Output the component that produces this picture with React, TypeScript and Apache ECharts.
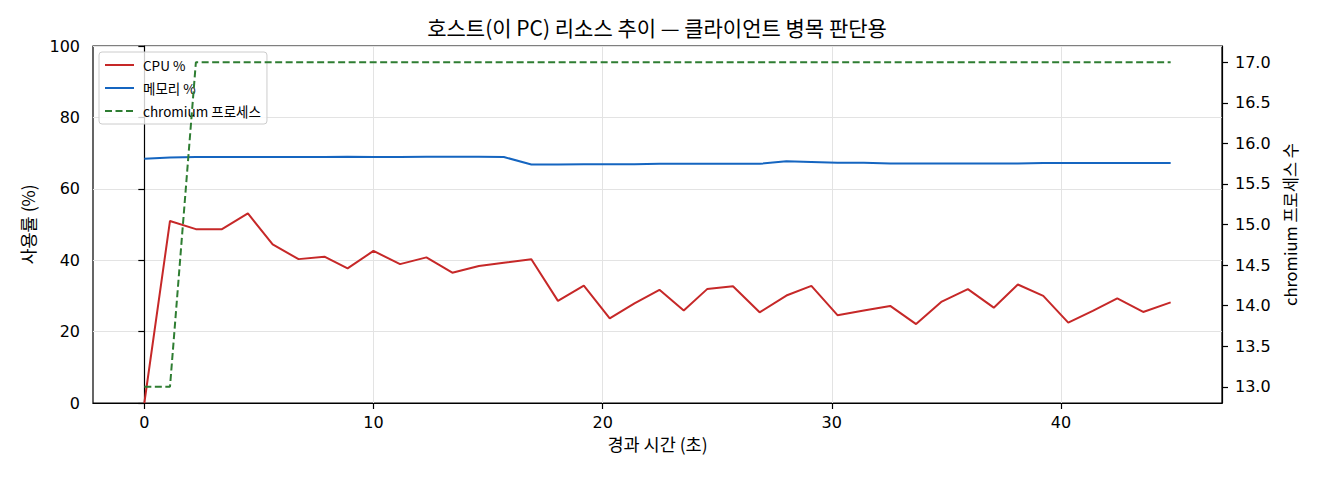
import React, { useEffect, useRef } from "react";
import * as echarts from "echarts";

const titleText = "호스트(이 PC) 리소스 추이 — 클라이언트 병목 판단용";
const xName = "경과 시간 (초)";
const yLeftName = "사용률 (%)";
const yRightName = "chromium 프로세스 수";
const seriesNames = ["CPU %", "메모리 %", "chromium 프로세스"];

const times = [
  0, 1.12, 2.25, 3.39, 4.52, 5.6, 6.73, 7.86, 8.87, 10.0, 11.16, 12.31, 13.44, 14.6, 15.69,
  16.89, 18.05, 19.18, 20.31, 21.39, 22.48, 23.54, 24.56, 25.69, 26.85, 28.02, 29.11, 30.25,
  31.4, 32.55, 33.68, 34.8, 35.94, 37.07, 38.12, 39.23, 40.32, 41.39, 42.46, 43.59, 44.79,
];

const cpu = [
  0, 51.0, 48.7, 48.7, 53.1, 44.4, 40.3, 41.0, 37.7, 42.6, 38.9, 40.8, 36.5, 38.4, 39.3,
  40.25, 28.6, 32.9, 23.7, 27.9, 31.7, 25.9, 31.9, 32.7, 25.4, 30.1, 32.8, 24.6,
  25.9, 27.2, 22.1, 28.4, 31.9, 26.7, 33.2, 30.0, 22.5, 25.8, 29.3, 25.5, 28.2,
];

const mem = [
  68.4, 68.8, 68.9, 68.9, 68.9, 68.9, 68.9, 68.9, 69.0, 68.9, 68.9, 69.0, 69.0, 69.0, 68.9,
  66.8, 66.8, 66.9, 66.9, 66.9, 67.0, 67.0, 67.0, 67.0, 67.0, 67.7, 67.5, 67.3,
  67.3, 67.1, 67.1, 67.1, 67.1, 67.1, 67.1, 67.2, 67.2, 67.2, 67.2, 67.2, 67.2,
];

const procs = [
  13, 13, 17, 17, 17, 17, 17, 17, 17, 17, 17, 17, 17, 17, 17,
  17, 17, 17, 17, 17, 17, 17, 17, 17, 17, 17, 17, 17,
  17, 17, 17, 17, 17, 17, 17, 17, 17, 17, 17, 17, 17,
];

const xTicks = [0, 10, 20, 30, 40];
const yRightTicks = [13, 13.5, 14, 14.5, 15, 15.5, 16, 16.5, 17];

const CJK = "'Noto Sans CJK KR', 'Noto Sans', sans-serif";
const NUM = "'DejaVu Sans', 'Noto Sans CJK KR', sans-serif";

export default function App() {
  const ref = useRef<HTMLDivElement>(null);

  useEffect(() => {
    document.body.style.margin = "0";
    if (!ref.current) return;
    const chart = echarts.init(ref.current, undefined, { renderer: "svg" });

    const pairs = (ys: number[]) => times.map((t, i) => [t, ys[i]]);

    const tickLabel = { color: "#000", fontFamily: NUM, fontSize: 16 };
    const nameStyle = { color: "#000", fontFamily: CJK, fontSize: 17.5 };

    chart.setOption({
      animation: false,
      backgroundColor: "#fff",
      title: {
        text: titleText,
        left: 657,
        textAlign: "center",
        top: 16,
        padding: 0,
        textStyle: { color: "#000", fontFamily: CJK, fontSize: 21, fontWeight: "normal" },
      },
      grid: {
        left: 93,
        right: 98,
        top: 46,
        bottom: 77,
        show: true,
        borderColor: "#000",
        borderWidth: 1.2,
        backgroundColor: "transparent",
        containLabel: false,
      },
      legend: {
        data: seriesNames,
        orient: "vertical",
        left: 99,
        top: 52,
        padding: [6, 6, 6, 5],
        itemWidth: 29,
        itemHeight: 14,
        itemGap: 9,
        backgroundColor: "rgba(255,255,255,0.8)",
        borderColor: "#cccccc",
        borderWidth: 1,
        borderRadius: 3,
        z: 3,
        itemStyle: { opacity: 0, borderWidth: 0 },
        textStyle: {
          color: "#000",
          fontFamily: CJK,
          fontSize: 13.5,
          lineHeight: 14,
          padding: [0, 0, 0, 4],
        },
      },
      xAxis: {
        type: "value",
        min: -2.24,
        max: 47.03,
        name: xName,
        nameLocation: "middle",
        nameGap: 30,
        nameTextStyle: nameStyle,
        axisLine: { show: true, lineStyle: { color: "#000", width: 1.2 } },
        axisTick: {
          show: true,
          customValues: xTicks,
          length: 6,
          lineStyle: { color: "#000", width: 1.2 },
        },
        axisLabel: { ...tickLabel, margin: 11, customValues: xTicks },
        splitLine: { show: true, lineStyle: { color: "#e3e3e3", width: 1 } },
      },
      yAxis: [
        {
          type: "value",
          min: 0,
          max: 100,
          interval: 20,
          name: yLeftName,
          nameLocation: "middle",
          nameGap: 57,
          nameRotate: 90,
          nameTextStyle: nameStyle,
          axisLine: { show: true, lineStyle: { color: "#000", width: 1.2 } },
          axisTick: { show: true, length: 6, lineStyle: { color: "#000", width: 1.2 } },
          axisLabel: { ...tickLabel, margin: 13 },
          splitLine: { show: true, lineStyle: { color: "#e3e3e3", width: 1 } },
        },
        {
          type: "value",
          position: "right",
          min: 12.8,
          max: 17.2,
          name: yRightName,
          nameLocation: "middle",
          nameGap: 58,
          nameRotate: 90,
          nameTextStyle: { ...nameStyle, fontSize: 16.5 },
          axisLine: { show: true, lineStyle: { color: "#000", width: 1.2 } },
          axisTick: {
            show: true,
            customValues: yRightTicks,
            length: 6,
            lineStyle: { color: "#000", width: 1.2 },
          },
          axisLabel: {
            ...tickLabel,
            margin: 13,
            customValues: yRightTicks,
            formatter: (v: number) => v.toFixed(1),
          },
          splitLine: { show: false },
        },
      ],
      series: [
        {
          name: seriesNames[0],
          type: "line",
          yAxisIndex: 0,
          data: pairs(cpu),
          showSymbol: false,
          symbol: "none",
          color: "#c62828",
          lineStyle: { color: "#c62828", width: 2 },
          z: 2,
        },
        {
          name: seriesNames[1],
          type: "line",
          yAxisIndex: 0,
          data: pairs(mem),
          showSymbol: false,
          symbol: "none",
          color: "#1565c0",
          lineStyle: { color: "#1565c0", width: 2 },
          z: 2,
        },
        {
          name: seriesNames[2],
          type: "line",
          yAxisIndex: 1,
          data: pairs(procs),
          showSymbol: false,
          symbol: "none",
          color: "#2e7d32",
          lineStyle: { color: "#2e7d32", width: 2, type: [7, 3.5] },
          z: 4,
        },
      ],
    });

    return () => chart.dispose();
  }, []);

  return <div ref={ref} style={{ width: 1320, height: 480 }} />;
}
